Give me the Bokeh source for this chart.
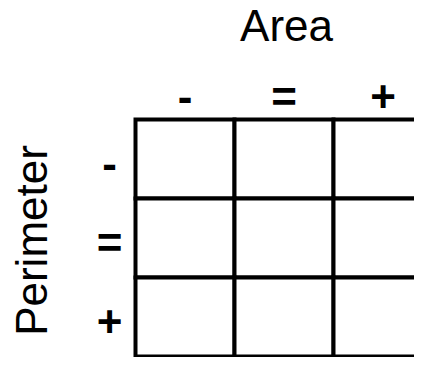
import math
from bokeh.plotting import figure
from bokeh.models import Range1d
from bokeh.core.properties import value
from bokeh.embed import file_html
from bokeh.resources import INLINE

# ---- data ----
col_labels = ["-", "=", "+"]          # Area categories (left to right)
row_labels = ["-", "=", "+"]          # Perimeter categories (top to bottom)
x_title = "Area"
y_title = "Perimeter"

n_cols = len(col_labels)
n_rows = len(row_labels)

# ---- layout (pixels) ----
W, H = 414, 357
cell_w, cell_h = 99, 79
left, top = 135, 119

FONT = value("Liberation Sans")

p = figure(width=W, height=H, output_backend="svg", toolbar_location=None,
           x_range=Range1d(-left / cell_w, (W - left) / cell_w),
           y_range=Range1d(n_rows - (H - top) / cell_h, n_rows + top / cell_h),
           min_border=0, outline_line_color=None)
p.axis.visible = False
p.grid.visible = False
p.background_fill_color = "white"
p.border_fill_color = "white"

# cells
cx, cy = [], []
for r in range(n_rows):
    for c in range(n_cols):
        cx.append(c + 0.5)
        cy.append(n_rows - r - 0.5)
p.rect(x=cx, y=cy, width=1, height=1, fill_color="white",
       line_color="black", line_width=4, line_join="miter")

# column labels
p.text(x=[c + 0.5 for c in range(n_cols)], y=[n_rows] * n_cols, text=col_labels,
       text_align="center", text_baseline="alphabetic", y_offset=-23.5,
       text_font=FONT, text_font_size="44px", text_font_style="bold",
       text_color="black")

# row labels
p.text(x=[0] * n_rows, y=[n_rows - r - 0.5 for r in range(n_rows)], text=row_labels,
       text_align="center", text_baseline="alphabetic", x_offset=-26, y_offset=4,
       text_font=FONT, text_font_size="44px", text_font_style="bold",
       text_color="black")

# titles
p.text(x=[n_cols / 2], y=[n_rows], text=[x_title], text_align="center",
       text_baseline="alphabetic", x_offset=2.5, y_offset=-94,
       text_font=FONT, text_font_size="44px", text_color="black")
p.text(x=[0], y=[n_rows / 2], text=[y_title], angle=math.pi / 2,
       text_align="center", text_baseline="alphabetic", x_offset=-104, y_offset=2.5,
       text_font=FONT, text_font_size="44px", text_color="black")

open("out.html", "w").write(file_html(p, INLINE))
